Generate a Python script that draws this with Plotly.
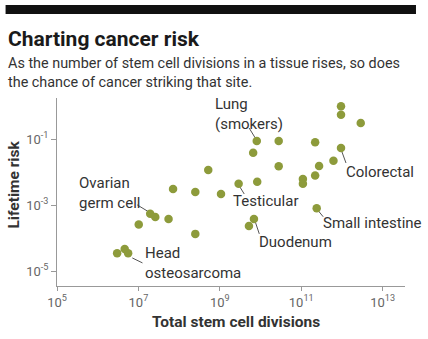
import plotly.graph_objects as go

# Total stem cell divisions over a lifetime, and lifetime cancer risk, per tissue
divisions = [9.5e11, 9.5e11, 2.9e12, 8.1e9, 2.8e10, 2.2e11, 9.5e11, 6.6e9,
             5.2e8, 2.8e10, 2.75e11, 6.2e11, 2.2e11, 1.1e11, 1.1e11, 8.3e9,
             2.9e9, 1.07e9, 7.1e7, 2.5e8, 2.4e11, 1.95e7, 2.6e7, 5.5e7,
             1.02e7, 2.5e8, 6.9e9, 5.2e9, 3.0e6, 4.6e6, 5.6e6]
risk = [1.0, 0.55, 0.31, 0.089, 0.089, 0.081, 0.054, 0.039,
        0.0117, 0.0151, 0.0155, 0.0224, 0.0079, 0.0062, 0.0045, 0.0051,
        0.0045, 0.0022, 0.0031, 0.0025, 0.00081, 0.00055, 0.00044, 0.00038,
        0.00026, 0.000135, 0.00038, 0.000234, 3.5e-5, 4.7e-5, 3.5e-5]

# Callout labels: text, anchor (log10 x, log10 y), leader line from/to (log10)
label_text = ["Lung<br>(smokers)", "Colorectal", "Testicular", "Small intestine",
              "Duodenum", "Ovarian<br>germ cell", "Head<br>osteosarcoma"]
label_pos = [(8.84, -0.23), (12.06, -1.99), (9.28, -2.86), (11.48, -3.54),
             (9.92, -4.11), (5.48, -2.63), (7.12, -4.75)]
leader_from = [(9.87, -0.96), (12.0, -1.38), (9.48, -2.42), (11.42, -3.17),
               (9.87, -3.50), (7.25, -3.20), (6.85, -4.60)]
leader_to = [(9.72, -0.66), (12.1, -1.72), (9.60, -2.66), (11.54, -3.35),
             (9.97, -3.87), (6.97, -2.99), (7.10, -4.75)]

x_ticks = [1e5, 1e7, 1e9, 1e11, 1e13]
x_ticktext = ["10<sup>5</sup>", "10<sup>7</sup>", "10<sup>9</sup>",
              "10<sup>11</sup>", "10<sup>13</sup>"]
y_ticks = [1e-5, 1e-3, 1e-1]
y_ticktext = ["10<sup>-5</sup>", "10<sup>-3</sup>", "10<sup>-1</sup>"]

W, H = 428, 339
L, R, T, B = 56.5, 405, 98, 286  # plot area edges in pixels


def px(x):
    return (x - L) / (R - L)


def py(y):
    return (B - y) / (B - T)


DOT = "#8d9b3b"
TXT = "#333333"

fig = go.Figure()

# leader lines
for (x0, y0), (x1, y1) in zip(leader_from, leader_to):
    fig.add_trace(go.Scatter(
        x=[10 ** x0, 10 ** x1], y=[10 ** y0, 10 ** y1], mode="lines",
        line=dict(color="#555555", width=1), hoverinfo="skip", showlegend=False))

fig.add_trace(go.Scatter(
    x=divisions, y=risk, mode="markers",
    marker=dict(color=DOT, size=8.5, line=dict(width=0)),
    showlegend=False))

annotations = []
for text, (lx, ly) in zip(label_text, label_pos):
    annotations.append(dict(
        x=lx, y=ly, xref="x", yref="y", text=text, showarrow=False,
        xanchor="left", yanchor="middle", align="left",
        font=dict(family="Roboto", size=15, color=TXT)))

# heading and standfirst
annotations.append(dict(
    x=px(5), y=py(39), xref="paper", yref="paper", text="<b>Charting cancer risk</b>",
    showarrow=False, xanchor="left", yanchor="middle",
    font=dict(family="Roboto", size=21, color="#1a1a1a")))
annotations.append(dict(
    x=px(5), y=py(73), xref="paper", yref="paper",
    text="As the number of stem cell divisions in a tissue rises, so does<br>"
         "the chance of cancer striking that site.",
    showarrow=False, xanchor="left", yanchor="middle", align="left",
    font=dict(family="Roboto", size=14.4, color=TXT)))

# axis titles
annotations.append(dict(
    x=px(236), y=py(322), xref="paper", yref="paper",
    text="<b>Total stem cell divisions</b>", showarrow=False,
    xanchor="center", yanchor="middle",
    font=dict(family="Roboto", size=15.5, color=TXT)))
annotations.append(dict(
    x=px(13), y=py(185), xref="paper", yref="paper",
    text="<b>Lifetime risk</b>", showarrow=False, textangle=-90,
    xanchor="center", yanchor="middle",
    font=dict(family="Roboto", size=15.5, color=TXT)))

fig.update_layout(
    width=W, height=H,
    margin=dict(l=L, r=W - R, t=T, b=H - B, pad=0),
    paper_bgcolor="white", plot_bgcolor="white",
    annotations=annotations,
    shapes=[dict(type="rect", xref="paper", yref="paper",
                 x0=px(5), x1=px(416), y0=py(14), y1=py(5),
                 fillcolor="#111111", line=dict(width=0), layer="above")],
    xaxis=dict(type="log", range=[5, 13.55], tickvals=x_ticks, ticktext=x_ticktext,
               showgrid=False, zeroline=False, showline=True, linecolor="#999999",
               linewidth=1, ticks="outside", ticklen=4, tickcolor="#999999",
               tickfont=dict(family="Roboto", size=13, color="#666666")),
    yaxis=dict(type="log", range=[-5.45, 0.25], tickvals=y_ticks, ticktext=y_ticktext,
               showgrid=False, zeroline=False, showline=True, linecolor="#999999",
               linewidth=1, ticks="outside", ticklen=5, tickcolor="#999999",
               tickfont=dict(family="Roboto", size=13, color="#666666")),
)

fig.write_html("out.html")
